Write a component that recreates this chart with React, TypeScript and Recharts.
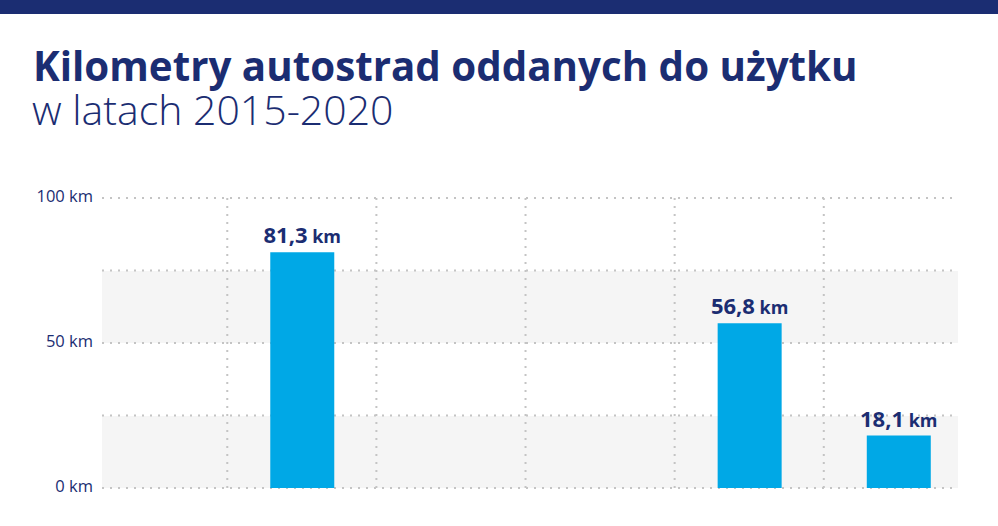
import React from 'react';
import {
  BarChart,
  Bar,
  XAxis,
  YAxis,
  CartesianGrid,
  LabelList,
} from 'recharts';

const years = ['2015', '2016', '2017', '2018', '2019', '2020'];
const km = [null, 81.3, null, null, 56.8, 18.1];
const yTicks = [0, 50, 100];
const gridValues = [0, 25, 50, 75, 100];

const NAVY = '#1b2d72';
const BLUE = '#00a8e6';
const FONT = "'Open Sans', sans-serif";

const data = years.map((year, i) => ({ idx: i, year, km: km[i] }));
// column separators sit between years
const separators = years.slice(1).map((_, i) => i + 0.5);

const fmt = (v: number) => v.toFixed(1).replace('.', ',');

const BarLabel = (props: any) => {
  const { x, y, width, value } = props;
  if (value == null) return null;
  return (
    <text
      x={x + width / 2}
      y={y - 9}
      textAnchor='middle'
      fill={NAVY}
      fontFamily={FONT}
      fontWeight={700}
    >
      <tspan fontSize={22}>{fmt(value)}</tspan>
      <tspan fontSize={18}> km</tspan>
    </text>
  );
};

export default function App() {
  return (
    <div
      style={{
        position: 'absolute',
        left: 0,
        top: 0,
        width: 998,
        height: 526,
        background: '#fff',
        fontFamily: FONT,
        overflow: 'hidden',
      }}
    >
      <div style={{ position: 'absolute', left: 0, top: 0, width: 998, height: 14, background: NAVY }} />
      <div
        style={{
          position: 'absolute',
          left: 33,
          top: 48,
          fontSize: 40.3,
          fontWeight: 700,
          color: NAVY,
          lineHeight: '36px',
          whiteSpace: 'nowrap',
        }}
      >
        Kilometry autostrad oddanych do użytku
      </div>
      <div
        style={{
          position: 'absolute',
          left: 32,
          top: 91,
          fontSize: 41,
          fontWeight: 300,
          color: NAVY,
          lineHeight: '36px',
          whiteSpace: 'nowrap',
        }}
      >
        w latach 2015-2020
      </div>
      <div style={{ position: 'absolute', left: 0, top: 0 }}>
        <BarChart
          width={998}
          height={526}
          data={data}
          margin={{ top: 198, right: 40, bottom: 38, left: 0 }}
        >
          <CartesianGrid
            stroke='#c4c4c4'
            strokeWidth={2}
            strokeDasharray='2 6'
            horizontalValues={gridValues}
            verticalValues={separators}
            horizontalFill={['#ffffff', '#f5f5f5']}
          />
          <XAxis
            dataKey='idx'
            type='number'
            domain={[-0.34, 5.4]}
            allowDataOverflow
            hide
          />
          <YAxis
            width={102}
            domain={[0, 100]}
            ticks={yTicks}
            axisLine={false}
            tickLine={false}
            tickSize={0}
            tickMargin={9}
            tickFormatter={(v) => `${v} km`}
            tick={{ fill: NAVY, fontSize: 16.5, fontFamily: FONT, fontWeight: 500, dy: -2 }}
          />
          <Bar dataKey='km' fill={BLUE} barSize={64} isAnimationActive={false}>
            <LabelList dataKey='km' content={BarLabel} />
          </Bar>
        </BarChart>
      </div>
    </div>
  );
}
